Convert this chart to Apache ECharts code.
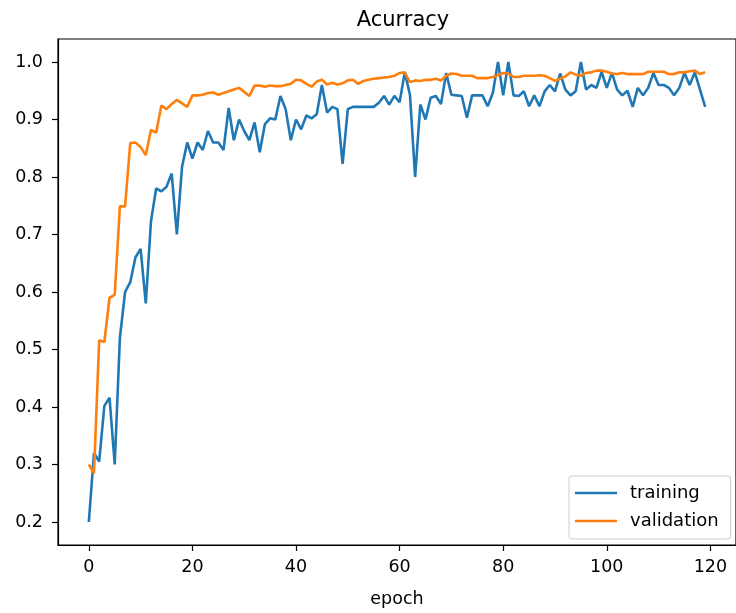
<!DOCTYPE html>
<html>
<head>
<meta charset="utf-8">
<script src="https://cdn.jsdelivr.net/npm/echarts@6/dist/echarts.min.js"></script>
<style>html,body{margin:0;padding:0;background:#fff}#c{width:736px;height:613px}</style>
</head>
<body>
<div id="c"></div>
<script>
const training = [0.20,0.32,0.305,0.402,0.416,0.30,0.52,0.60,0.617,0.66,
0.675,0.58,0.723,0.78,0.775,0.783,0.806,0.70,0.818,0.86,
0.832,0.86,0.847,0.88,0.86,0.86,0.847,0.92,0.864,0.90,
0.88,0.864,0.895,0.843,0.892,0.902,0.90,0.941,0.918,0.864,
0.90,0.883,0.907,0.902,0.909,0.96,0.912,0.922,0.918,0.823,
0.918,0.922,0.922,0.922,0.922,0.922,0.929,0.941,0.926,0.941,
0.93,0.982,0.943,0.80,0.926,0.90,0.938,0.941,0.927,0.981,
0.943,0.942,0.941,0.903,0.942,0.942,0.942,0.923,0.946,1.0,
0.942,1.0,0.942,0.941,0.949,0.923,0.942,0.923,0.949,0.96,
0.949,0.98,0.952,0.942,0.949,1.0,0.952,0.96,0.955,0.983,
0.955,0.981,0.952,0.942,0.950,0.922,0.955,0.942,0.955,0.981,
0.96,0.96,0.955,0.942,0.955,0.981,0.96,0.982,0.952,0.922];
const validation = [0.30,0.285,0.516,0.513,0.59,0.595,0.749,0.749,0.859,0.86,
0.852,0.838,0.882,0.877,0.924,0.918,0.927,0.934,0.928,0.922,
0.942,0.942,0.943,0.946,0.947,0.943,0.946,0.949,0.952,0.955,
0.948,0.941,0.959,0.959,0.957,0.959,0.958,0.958,0.96,0.962,
0.969,0.968,0.962,0.957,0.966,0.969,0.961,0.964,0.961,0.963,
0.968,0.969,0.962,0.967,0.969,0.971,0.972,0.973,0.974,0.976,
0.981,0.982,0.965,0.968,0.967,0.969,0.969,0.971,0.968,0.976,
0.98,0.979,0.976,0.976,0.976,0.972,0.972,0.972,0.974,0.977,
0.981,0.98,0.974,0.974,0.976,0.976,0.976,0.977,0.976,0.972,
0.967,0.971,0.975,0.982,0.978,0.976,0.981,0.982,0.985,0.985,
0.983,0.98,0.979,0.981,0.979,0.979,0.979,0.979,0.983,0.983,
0.983,0.983,0.979,0.979,0.982,0.982,0.984,0.985,0.979,0.982];
const xTicks = [0,20,40,60,80,100,120];
const yTicks = [0.2,0.3,0.4,0.5,0.6,0.7,0.8,0.9,1.0];
const epochs = training.map((_, i) => i);

const font = 'DejaVu Sans';
const chart = echarts.init(document.getElementById('c'), null, {renderer:'canvas'});
chart.setOption({
  animation: false,
  backgroundColor: '#fff',
  title: {
    text: 'Acurracy', left: 398, top: 5, textAlign: 'center',
    textStyle: {fontFamily: font, fontSize: 21, fontWeight: 'normal', color: '#000'}
  },
  grid: {left: 58, top: 39, right: -6.6, bottom: 63, show: true, borderColor: '#000', borderWidth: 1.2, backgroundColor: 'transparent'},
  legend: {
    orient: 'vertical', left: 569, top: 476,
    padding: [8, 12, 9, 6], itemGap: 10,
    itemWidth: 42, itemHeight: 2.6, icon: 'rect',
    backgroundColor: 'rgba(255,255,255,0.8)', borderColor: '#cccccc', borderWidth: 1, borderRadius: 3,
    textStyle: {fontFamily: font, fontSize: 18, color: '#000', padding: [0,0,0,8]},
    data: ['training', 'validation']
  },
  xAxis: {
    type: 'value', min: -5.95, max: 124.95,
    name: 'epoch', nameLocation: 'middle', nameGap: 45,
    nameTextStyle: {fontFamily: font, fontSize: 17.5, color: '#000'},
    axisLine: {show: true, onZero: false, lineStyle: {color: '#000', width: 1.2}},
    axisTick: {show: true, inside: false, length: 6, customValues: xTicks, lineStyle: {color: '#000', width: 1.2}},
    axisLabel: {customValues: xTicks, margin: 13, fontFamily: font, fontSize: 17.5, color: '#000'},
    splitLine: {show: false}
  },
  yAxis: {
    type: 'value', min: 0.16, max: 1.04,
    axisLine: {show: true, onZero: false, lineStyle: {color: '#000', width: 1.2}},
    axisTick: {show: true, inside: false, length: 6, customValues: yTicks, lineStyle: {color: '#000', width: 1.2}},
    axisLabel: {customValues: yTicks, margin: 15, fontFamily: font, fontSize: 17.5, color: '#000',
      formatter: v => v.toFixed(1)},
    splitLine: {show: false}
  },
  series: [
    {name: 'training', type: 'line', showSymbol: false, symbol: 'none',
     data: epochs.map(i => [i, training[i]]), lineStyle: {color: '#1f77b4', width: 2.6}, itemStyle: {color: '#1f77b4'}},
    {name: 'validation', type: 'line', showSymbol: false, symbol: 'none',
     data: epochs.map(i => [i, validation[i]]), lineStyle: {color: '#ff7f0e', width: 2.6}, itemStyle: {color: '#ff7f0e'}}
  ]
});
</script>
</body>
</html>
